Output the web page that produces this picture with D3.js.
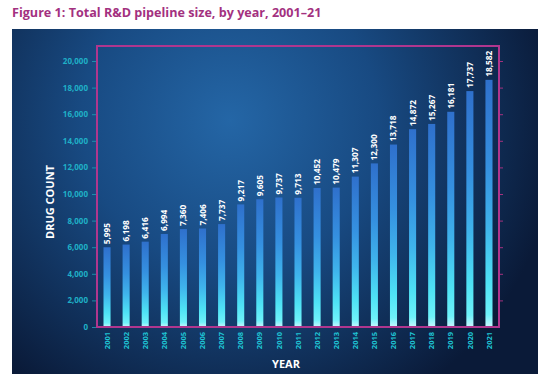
<!DOCTYPE html>
<html><head><meta charset="utf-8">
<script src="https://cdn.jsdelivr.net/npm/d3@7"></script>
<style>
html,body{margin:0;padding:0;background:#fff;}
svg{display:block;font-family:"Open Sans",sans-serif;}
</style></head>
<body>
<svg id="c" width="545" height="381"></svg>
<script>
const years = ["2001","2002","2003","2004","2005","2006","2007","2008","2009","2010","2011","2012","2013","2014","2015","2016","2017","2018","2019","2020","2021"];
const drugCounts = [5995,6198,6416,6994,7360,7406,7737,9217,9605,9737,9713,10452,10479,11307,12300,13718,14872,15267,16181,17737,18582];
const yTicks = [0,2000,4000,6000,8000,10000,12000,14000,16000,18000,20000];

(function(){
const svg = d3.select("#c");
const defs = svg.append("defs");

const bg = defs.append("radialGradient").attr("id","bg")
  .attr("gradientUnits","userSpaceOnUse").attr("cx",230).attr("cy",120).attr("r",330);
bg.append("stop").attr("offset","0%").attr("stop-color","#2466a6");
bg.append("stop").attr("offset","45%").attr("stop-color","#184a82");
bg.append("stop").attr("offset","100%").attr("stop-color","#0a1a38");

const bar = defs.append("linearGradient").attr("id","bar").attr("x1",0).attr("y1",0).attr("x2",0).attr("y2",1);
bar.append("stop").attr("offset","0%").attr("stop-color","#2f70cc");
bar.append("stop").attr("offset","35%").attr("stop-color","#3590e0");
bar.append("stop").attr("offset","60%").attr("stop-color","#3fb4ec");
bar.append("stop").attr("offset","82%").attr("stop-color","#4ee2f5");
bar.append("stop").attr("offset","95%").attr("stop-color","#6ef2fa");
bar.append("stop").attr("offset","100%").attr("stop-color","#c8f8ff");

svg.append("text").attr("x",12).attr("y",17)
  .attr("font-size",12.6).attr("font-weight",700).attr("fill","#a3317f")
  .text("Figure 1: Total R&D pipeline size, by year, 2001–21");

svg.append("rect").attr("x",12).attr("y",29).attr("width",526).attr("height",345).attr("fill","url(#bg)");

const pl = 97, pr = 499, pt = 46, pb = 327;
const x = d3.scaleBand().domain(years).range([pl,pr]).paddingInner(0.63).paddingOuter(0.34);
const y = d3.scaleLinear().domain([0,20000]).range([pb,61]);

svg.append("g").selectAll("rect").data(drugCounts).join("rect")
  .attr("x",(d,i)=>x(years[i])).attr("width",x.bandwidth())
  .attr("y",d=>y(d)).attr("height",d=>pb-y(d))
  .attr("fill","url(#bar)");

svg.append("g").selectAll("text").data(drugCounts).join("text")
  .attr("transform",(d,i)=>`translate(${x(years[i])+x.bandwidth()/2+3},${y(d)-3}) rotate(-90)`)
  .attr("font-size",8.3).attr("font-weight",700).attr("fill","#ffffff")
  .text(d=>d3.format(",")(d));

const yAxis = svg.append("g").attr("transform",`translate(${pl},0)`)
  .call(d3.axisLeft(y).tickValues(yTicks).tickFormat(d3.format(",")).tickSize(5).tickPadding(4));
yAxis.select(".domain").remove();
yAxis.selectAll("line").attr("stroke","#1e9fb8").attr("stroke-width",0.8);
yAxis.selectAll("text").attr("fill","#1fb0c6").attr("font-size",8).attr("font-weight",700)
  .attr("font-family","Open Sans, sans-serif");

const yAxisR = svg.append("g").attr("transform",`translate(${pr},0)`)
  .call(d3.axisRight(y).tickValues(yTicks.slice(1)).tickFormat("").tickSize(4));
yAxisR.select(".domain").remove();
yAxisR.selectAll("line").attr("stroke","#a3317f").attr("stroke-width",1);

const xAxis = svg.append("g").attr("transform",`translate(0,${pb})`)
  .call(d3.axisBottom(x).tickSize(0).tickPadding(0));
xAxis.select(".domain").remove();
xAxis.selectAll("text")
  .attr("transform","rotate(-90)").attr("text-anchor","end")
  .attr("x",-5).attr("y",0).attr("dy","0.35em")
  .attr("fill","#1fc4d4").attr("font-size",7.5).attr("font-weight",700)
  .attr("font-family","Open Sans, sans-serif");

svg.append("rect").attr("x",pl).attr("y",pt).attr("width",pr-pl).attr("height",pb-pt)
  .attr("fill","none").attr("stroke","#b0368e").attr("stroke-width",2);

svg.append("text").attr("transform",`translate(54,202) rotate(-90)`)
  .attr("text-anchor","middle").attr("font-size",11).attr("font-weight",700).attr("fill","#ffffff")
  .text("DRUG COUNT");
svg.append("text").attr("x",286).attr("y",368)
  .attr("text-anchor","middle").attr("font-size",11).attr("font-weight",700).attr("fill","#ffffff")
  .text("YEAR");
})();
</script>
</body></html>
